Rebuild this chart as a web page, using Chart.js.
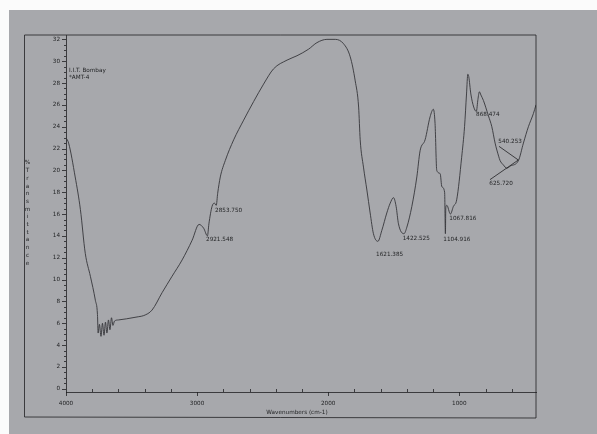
<!DOCTYPE html>
<html lang="en">

<head>
    <meta charset="UTF-8" />
    <title>IR spectrum</title>
    <style>
        * {
            margin: 0;
            padding: 0;
        }

        body {
            background: #ffffff;
        }

        canvas {
            display: block;
        }
    </style>
</head>

<body>
    <canvas id="myChart" width="597" height="434"></canvas>
    <script src="https://cdn.jsdelivr.net/npm/chart.js@4.4.1/dist/chart.umd.min.js"></script>
    <script>
        // spectrum (cm-1, %T)
        const wavenumbers = [
            4000, 3980, 3930, 3890, 3853, 3814, 3776, 3760, 3755, 3745, 3733, 3722, 3710, 3699, 3688, 3676,
            3665, 3653, 3642, 3630, 3600, 3540, 3445, 3407, 3344, 3267, 3191, 3114, 3038, 2985, 2950, 2921,
            2910, 2886, 2868, 2854, 2843, 2823, 2785, 2721, 2645, 2569, 2493, 2417, 2314, 2238, 2150, 2086,
            2010, 1946, 1883, 1832, 1794, 1768, 1756, 1731, 1705, 1680, 1655, 1621, 1591, 1553, 1527, 1502,
            1482, 1464, 1422, 1400, 1362, 1324, 1299, 1261, 1223, 1198, 1185, 1172, 1146, 1133, 1112, 1106,
            1103, 1095, 1068, 1045, 1020, 982, 960, 945, 935, 928, 912, 890, 870, 858, 847, 835, 816, 778,
            752, 727, 700, 689, 664, 638, 610, 549, 511, 473, 435, 415
        ];
        const transmittance = [
            23.0, 22.5, 19.4, 16.4, 12.4, 10.3, 8.1, 6.8, 5.1, 5.9, 4.8, 6.0, 4.9, 6.1, 5.1, 6.3,
            5.4, 6.5, 5.8, 6.2, 6.3, 6.4, 6.6, 6.7, 7.2, 8.8, 10.3, 11.8, 13.6, 15.05, 14.7, 14.0,
            15.1, 16.7, 17.0, 16.8, 17.9, 19.4, 20.9, 22.8, 24.6, 26.3, 27.9, 29.3, 30.1, 30.5, 31.1, 31.7,
            32.0, 32.0, 31.6, 30.4, 28.2, 25.8, 22.8, 20.3, 18.2, 16.1, 14.2, 13.5, 14.5, 16.1, 17.0, 17.5,
            16.7, 15.1, 14.2, 14.8, 16.7, 19.4, 21.8, 22.8, 24.9, 25.6, 24.3, 20.0, 19.7, 18.5, 18.0, 14.2,
            16.6, 16.8, 16.0, 16.7, 17.3, 21.2, 24.0, 27.0, 28.8, 28.6, 27.0, 25.8, 25.4, 26.5, 27.2, 26.9, 26.4, 25.0,
            24.0, 22.5, 21.3, 20.9, 20.5, 20.2, 20.4, 20.9, 22.5, 24.0, 25.2, 26.0
        ];

        const xTicks = [4000, 3000, 2000, 1000];
        const yTicks = [0, 2, 4, 6, 8, 10, 12, 14, 16, 18, 20, 22, 24, 26, 28, 30, 32];

        // peak labels: text, text anchor (cm-1, %T)
        const peakLabels = ["2921.548", "2853.750", "1621.385", "1422.525", "1104.916", "1067.816", "868.474", "540.253", "625.720"];
        const peakTextX = [2932, 2863, 1635, 1432, 1122, 1076, 872, 702, 771];
        const peakTextY = [13.7, 16.3, 12.25, 13.8, 13.7, 15.6, 25.15, 22.6, 18.75];
        // leader lines for the last two labels
        const leaderFrom = [[697, 22.2], [766, 19.15]];
        const leaderTo = [[550, 20.95], [550, 20.95]];

        const yTitle = "%Transmittance";
        const inkColor = "#1f2022";
        const lineColor = "#35363a";
        const paper = "#a7a8ac";
        const fontFamily = "'DejaVu Sans', Verdana, sans-serif";
        const smallFont = "5.7px " + fontFamily;

        const points = wavenumbers.map((w, i) => ({ x: w, y: transmittance[i] }));

        const paperPlugin = {
            id: "paper",
            beforeDraw(chart) {
                const c = chart.ctx;
                c.save();
                c.fillStyle = "#fbfbfb";
                c.fillRect(0, 0, chart.width, chart.height);
                c.fillStyle = paper;
                c.fillRect(9, 10, chart.width - 9, chart.height - 10);
                c.restore();
            }
        };

        const decorPlugin = {
            id: "decor",
            afterDraw(chart) {
                const c = chart.ctx;
                const xs = chart.scales.x;
                const ys = chart.scales.y;
                const area = chart.chartArea;
                c.save();
                c.strokeStyle = inkColor;
                c.lineWidth = 0.8;

                // outer frame
                c.beginPath();
                c.moveTo(24.5, area.top);
                c.lineTo(area.right, area.top);
                c.lineTo(area.right, 418);
                c.lineTo(24.5, 417);
                c.closePath();
                c.stroke();

                // y ticks
                c.beginPath();
                for (let v = 0; v <= 32; v += 0.5) {
                    const py = Math.round(ys.getPixelForValue(v)) + 0.5;
                    const len = v % 2 === 0 ? 4 : 2;
                    c.moveTo(area.left - len, py);
                    c.lineTo(area.left, py);
                }
                // x ticks
                for (let w = 4000; w >= 600; w -= 200) {
                    const px = Math.round(xs.getPixelForValue(w)) + 0.5;
                    if (w % 1000 === 0) {
                        c.moveTo(px, area.bottom);
                        c.lineTo(px, area.bottom + 4);
                    } else {
                        c.moveTo(px, area.bottom);
                        c.lineTo(px, area.bottom - 3);
                    }
                }
                c.stroke();

                // peak labels
                c.fillStyle = inkColor;
                c.font = smallFont;
                c.textAlign = "left";
                c.textBaseline = "middle";
                peakLabels.forEach((t, i) => {
                    c.fillText(t, xs.getPixelForValue(peakTextX[i]), ys.getPixelForValue(peakTextY[i]));
                });
                c.beginPath();
                leaderFrom.forEach((p, i) => {
                    c.moveTo(xs.getPixelForValue(p[0]), ys.getPixelForValue(p[1]));
                    c.lineTo(xs.getPixelForValue(leaderTo[i][0]), ys.getPixelForValue(leaderTo[i][1]));
                });
                c.stroke();

                // sample header
                c.fillText("I.I.T. Bombay", 69, 70.5);
                c.fillText("*AMT-4", 69, 77.5);

                // stacked y title
                c.textAlign = "center";
                yTitle.split("").forEach((ch, i) => {
                    c.fillText(ch, 27.5, 163 + i * 7.7);
                });

                // x title
                c.fillText("Wavenumbers (cm-1)", 297, 413);
                c.restore();
            }
        };

        const data = {
            datasets: [
                {
                    label: "AMT-4",
                    data: points,
                    borderColor: lineColor,
                    borderWidth: 0.9,
                    pointRadius: 0,
                    cubicInterpolationMode: "monotone",
                    fill: false
                }
            ]
        };

        const options = {
            responsive: false,
            animation: false,
            layout: {
                padding: { left: 0, top: 35, right: 61, bottom: 0 }
            },
            scales: {
                x: {
                    type: "linear",
                    reverse: true,
                    min: 415,
                    max: 4000,
                    afterFit: (scale) => { scale.height = 42; },
                    afterBuildTicks: (scale) => { scale.ticks = xTicks.map(v => ({ value: v })); },
                    grid: { display: false, drawTicks: false },
                    border: { display: true, color: inkColor, width: 0.8 },
                    ticks: {
                        color: inkColor,
                        padding: 8,
                        maxRotation: 0,
                        font: { family: fontFamily, size: 5.7 },
                        callback: (v) => String(v)
                    }
                },
                y: {
                    min: -0.3,
                    max: 32.4,
                    afterFit: (scale) => { scale.width = 66; },
                    afterBuildTicks: (scale) => { scale.ticks = yTicks.map(v => ({ value: v })); },
                    grid: { display: false, drawTicks: false },
                    border: { display: true, color: inkColor, width: 0.8 },
                    ticks: {
                        color: inkColor,
                        padding: 6,
                        font: { family: fontFamily, size: 5.7 },
                        callback: (v) => String(v)
                    }
                }
            },
            plugins: {
                legend: { display: false },
                tooltip: { enabled: false }
            }
        };

        const config = {
            type: "line",
            data: data,
            plugins: [paperPlugin, decorPlugin],
            options: options
        };

        const ctx = document.getElementById("myChart").getContext("2d");
        const myChart = new Chart(ctx, config);
    </script>
</body>

</html>
